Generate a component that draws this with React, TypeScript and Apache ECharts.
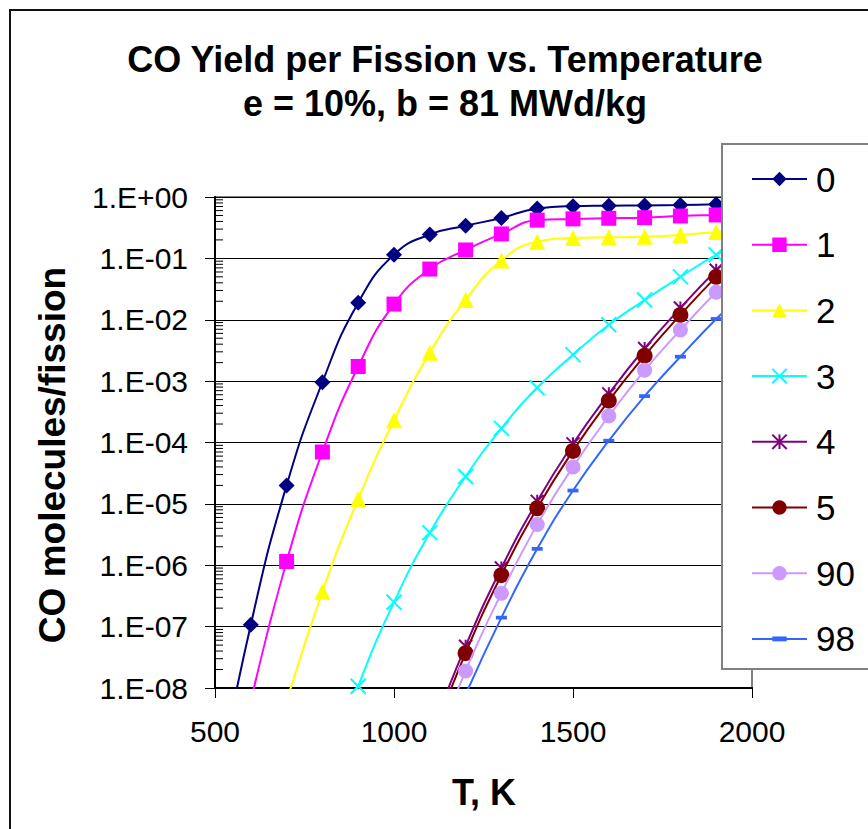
import React, { useEffect, useRef } from "react";
import * as echarts from "echarts";

// Temperatures (K)
const temps = [500, 600, 700, 800, 900, 1000, 1100, 1200, 1300, 1400, 1500, 1600, 1700, 1800, 1900, 2000];

// CO molecules / fission (null = not plotted)
const s0 = [1.5e-10, 1.07e-7, 2.0e-5, 9.6e-4, 1.9e-2, 0.115, 0.245, 0.34, 0.455, 0.65, 0.71, 0.72, 0.73, 0.74, 0.76, 0.77];
const s1 = [null, 6e-9, 1.15e-6, 7.0e-5, 1.73e-3, 0.018, 0.067, 0.137, 0.25, 0.42, 0.44, 0.45, 0.46, 0.49, 0.51, 0.53];
const s2 = [null, null, 6e-9, 3.7e-7, 1.2e-5, 2.3e-4, 2.9e-3, 0.021, 0.092, 0.187, 0.215, 0.22, 0.225, 0.24, 0.27, 0.3];
const s3 = [null, null, null, 2.5e-10, 1.07e-8, 2.5e-7, 3.4e-6, 2.8e-5, 1.7e-4, 7.8e-4, 2.7e-3, 8.3e-3, 0.021, 0.05, 0.114, 0.22];
const s4 = [null, null, null, null, null, null, 1.6e-9, 4.8e-8, 9.0e-7, 1.1e-5, 9.5e-5, 6.2e-4, 3.4e-3, 0.0155, 0.064, 0.23];
const s5 = [null, null, null, null, null, null, 1.2e-9, 3.7e-8, 6.9e-7, 8.5e-6, 7.3e-5, 4.8e-4, 2.6e-3, 0.012, 0.05, 0.18];
const s90 = [null, null, null, null, null, null, 6e-10, 1.9e-8, 3.5e-7, 4.6e-6, 4.0e-5, 2.7e-4, 1.5e-3, 6.8e-3, 0.028, 0.1];
const s98 = [null, null, null, null, null, null, null, 7.8e-9, 1.4e-7, 1.85e-6, 1.65e-5, 1.07e-4, 5.7e-4, 2.5e-3, 0.0103, 0.037];

const seriesNames = ["0", "1", "2", "3", "4", "5", "90", "98"];
const seriesValues = [s0, s1, s2, s3, s4, s5, s90, s98];

const xTickLabels = [500, 1000, 1500, 2000];

const FONT = '"Liberation Sans", Arial, sans-serif';

const X_PATH = "path://M0,0L10,10M10,0L0,10";
const STAR_PATH = "path://M0,0L10,10M10,0L0,10M5,0L5,10";
const DASH_PATH = "path://M0,0M10,10M0,3.3H10V6.7H0Z";

const styles = [
  { color: "#000080", symbol: "diamond", size: 16, stroke: false },
  { color: "#FF00FF", symbol: "rect", size: 15, stroke: false },
  { color: "#FFFF00", symbol: "triangle", size: 16, stroke: false },
  { color: "#00FFFF", symbol: X_PATH, size: 15, stroke: true },
  { color: "#800080", symbol: STAR_PATH, size: 13, stroke: true },
  { color: "#800000", symbol: "circle", size: 16, stroke: false },
  { color: "#CC99FF", symbol: "circle", size: 15, stroke: false },
  { color: "#3366FF", symbol: DASH_PATH, size: 11, stroke: false },
];

function fmtExp(v: number): string {
  const e = Math.round(Math.log10(v));
  const sign = e < 0 ? "-" : "+";
  const a = Math.abs(e);
  return "1.E" + sign + (a < 10 ? "0" + a : String(a));
}

export default function App() {
  const ref = useRef<HTMLDivElement>(null);
  useEffect(() => {
    if (!ref.current) return;
    const chart = echarts.init(ref.current, undefined, { renderer: "svg" });

    const minorVals: number[] = [];
    for (let n = -8; n <= -1; n++) {
      for (let k = 2; k <= 9; k++) minorVals.push(k * Math.pow(10, n));
    }

    const lineSeries = seriesNames.map((name, si) => {
      const st = styles[si];
      const vals = seriesValues[si];
      const data: [number, number][] = [];
      temps.forEach((t, i) => {
        const v = vals[i];
        if (v !== null && v !== undefined) data.push([t, v as number]);
      });
      return {
        type: "line",
        name,
        data,
        smooth: 0.5,
        clip: true,
        symbol: st.symbol,
        symbolSize: st.size,
        showAllSymbol: true,
        lineStyle: { color: st.color, width: 2 },
        itemStyle: st.stroke
          ? { color: st.color, borderColor: st.color, borderWidth: 2 }
          : { color: st.color, borderWidth: 0 },
        emphasis: { disabled: true },
        z: 2 + si * 0.01,
      };
    });

    chart.setOption({
      animation: false,
      backgroundColor: "#fff",
      grid: {
        left: 215,
        top: 197,
        width: 537,
        height: 491,
        show: true,
        borderColor: "#808080",
        borderWidth: 2,
        backgroundColor: "transparent",
      },
      xAxis: {
        type: "value",
        min: 500,
        max: 2000,
        interval: 500,
        axisLine: { show: true, onZero: false, lineStyle: { color: "#000", width: 2 } },
        axisTick: { show: true, length: 10, inside: false, lineStyle: { color: "#000", width: 1 } },
        axisLabel: {
          fontSize: 30,
          fontFamily: FONT,
          color: "#000",
          margin: 28,
          formatter: (v: number) => (xTickLabels.indexOf(v) >= 0 ? String(v) : ""),
        },
        splitLine: { show: false },
      },
      yAxis: {
        type: "log",
        logBase: 10,
        min: 1e-8,
        max: 1,
        splitNumber: 8,
        axisLine: { show: true, onZero: false, lineStyle: { color: "#000", width: 2 } },
        axisTick: { show: true, length: 10, inside: false, lineStyle: { color: "#000", width: 1 } },
        axisLabel: {
          fontSize: 30,
          fontFamily: FONT,
          color: "#000",
          margin: 27,
          formatter: (v: number) => fmtExp(v),
        },
        splitLine: { show: true, lineStyle: { color: "#000", width: 1 } },
      },
      legend: {
        orient: "vertical",
        left: 722,
        top: 144,
        data: seriesNames,
        backgroundColor: "#fff",
        borderColor: "#808080",
        borderWidth: 2,
        borderRadius: 0,
        padding: [15, 40, 10, 29],
        itemWidth: 55,
        itemHeight: 18,
        itemGap: 25.7,
        selectedMode: false,
        textStyle: {
          fontSize: 35,
          fontFamily: FONT,
          color: "#000",
          lineHeight: 40,
          padding: [0, 0, 0, 4],
        },
        z: 10,
      },
      graphic: [
        {
          type: "rect",
          shape: { x: 10, y: 10, width: 1000, height: 1000 },
          style: { fill: "none", stroke: "#111", lineWidth: 2 },
          silent: true,
          z: 0,
        },
        {
          type: "text",
          x: 445,
          y: 59,
          style: {
            text: "CO Yield per Fission vs. Temperature",
            font: "bold 36px " + FONT,
            fill: "#000",
            align: "center",
            verticalAlign: "middle",
            textAlign: "center",
            textVerticalAlign: "middle",
          },
          silent: true,
        },
        {
          type: "text",
          x: 445,
          y: 103,
          style: {
            text: "e = 10%, b = 81 MWd/kg",
            font: "bold 36px " + FONT,
            fill: "#000",
            align: "center",
            verticalAlign: "middle",
            textAlign: "center",
            textVerticalAlign: "middle",
          },
          silent: true,
        },
        {
          type: "text",
          x: 52,
          y: 455,
          rotation: Math.PI / 2,
          style: {
            text: "CO molecules/fission",
            font: "bold 37px " + FONT,
            fill: "#000",
            align: "center",
            verticalAlign: "middle",
            textAlign: "center",
            textVerticalAlign: "middle",
          },
          silent: true,
        },
        {
          type: "text",
          x: 484,
          y: 792,
          style: {
            text: "T, K",
            font: "bold 36px " + FONT,
            fill: "#000",
            align: "center",
            verticalAlign: "middle",
            textAlign: "center",
            textVerticalAlign: "middle",
          },
          silent: true,
        },
      ],
      series: [
        ...lineSeries,
        {
          type: "custom",
          name: "minorTicks",
          silent: true,
          clip: false,
          z: 3,
          data: minorVals.map((v) => [500, v]),
          renderItem: (params: any, api: any) => {
            const p = api.coord([api.value(0), api.value(1)]);
            return {
              type: "line",
              shape: { x1: p[0], y1: p[1], x2: p[0] + 8, y2: p[1] },
              style: { stroke: "#000", lineWidth: 1 },
            };
          },
        },
      ],
    });

    return () => chart.dispose();
  }, []);

  return (
    <div
      ref={ref}
      style={{ position: "absolute", left: 0, top: 0, width: 868, height: 829, background: "#fff" }}
    />
  );
}
